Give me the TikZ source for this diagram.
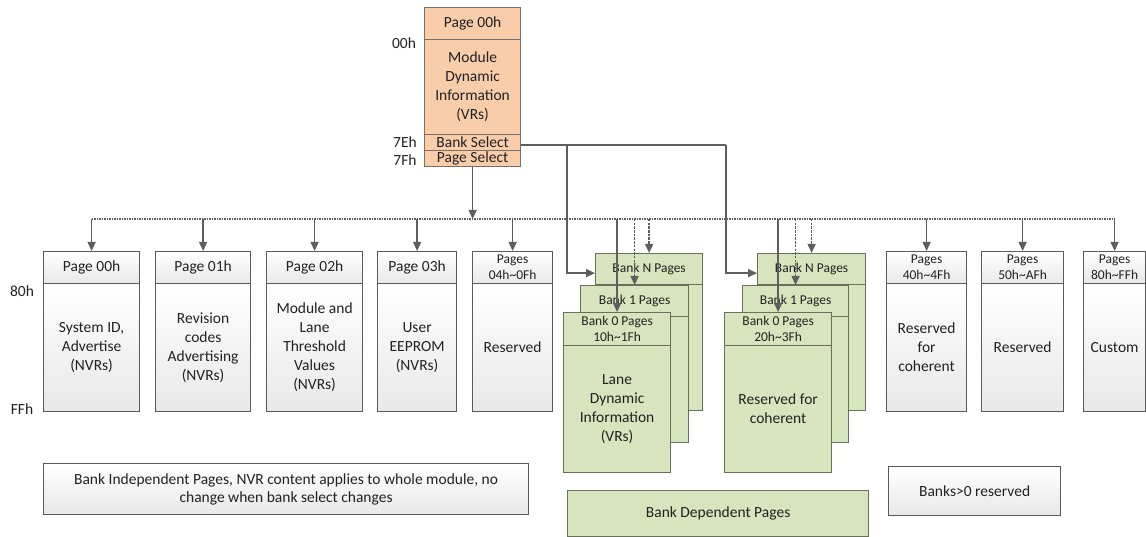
\documentclass[tikz,border=0pt]{standalone}
\usepackage{fontspec}
\setmainfont{Carlito}
\usetikzlibrary{arrows.meta}
\definecolor{peach}{HTML}{F9CCAA}
\definecolor{peachline}{HTML}{7A6E66}
\definecolor{olive}{HTML}{D8E4BE}
\definecolor{oliveline}{HTML}{68705A}
\definecolor{boxline}{HTML}{5A5A5A}
\definecolor{wirec}{HTML}{5E5E5E}
\definecolor{txt}{HTML}{222222}
\begin{document}
\begin{tikzpicture}[x=1pt,y=-1pt,
  every node/.append style={text=txt},
  font=\fontsize{15.5}{19}\selectfont,
  base/.style={draw=boxline, line width=1.2pt, anchor=north west, inner sep=0pt, align=center},
  wbox/.style={base, top color=white, bottom color=black!9},
  gbox/.style={base, draw=oliveline, fill=olive},
  obox/.style={base, draw=peachline, fill=peach},
  small/.style={font=\fontsize{13.5}{16}\selectfont},
  mid/.style={font=\fontsize{15.5}{18}\selectfont},
  lbl/.style={font=\fontsize{15.5}{17}\selectfont},
  wire/.style={draw=wirec, line width=1.3pt},
  arr/.style={wire, -{Triangle[length=9pt,width=8pt]}},
  bus/.style={draw=wirec, line width=1.1pt, dash pattern=on 1.5pt off 1pt},
  darr/.style={arr, dash pattern=on 2.5pt off 1.2pt}]
\useasboundingbox (0,0) rectangle (1146,537);

% top box
\node[obox, minimum width=96, minimum height=32] (tph) at (424,7) {Page 00h};
\node[obox, minimum width=96, minimum height=95] (tpb) at (424,39) {Module\\Dynamic\\Information\\(VRs)};
\node[obox, mid, minimum width=96, minimum height=16] (bsel) at (424,134) {Bank Select};
\node[obox, mid, minimum width=96, minimum height=16] (psel) at (424,150) {Page Select};
\node[lbl] (l00) at (404,43) {00h};
\node[lbl] (l7e) at (405,142) {7Eh};
\node[lbl] (l7f) at (405,160) {7Fh};
\node[lbl] (l80) at (22,291) {80h};
\node[lbl] (lff) at (22,409) {FFh};

% bank independent pages
\node[wbox, minimum width=96, minimum height=32] (b0h) at (43,251) {Page 00h};
\node[wbox, minimum width=96, minimum height=128] (b0b) at (43,283) {System ID,\\Advertise\\(NVRs)};
\node[wbox, minimum width=95, minimum height=32] (b1h) at (155,251) {Page 01h};
\node[wbox, minimum width=95, minimum height=128] (b1b) at (155,283) {Revision\\codes\\Advertising\\(NVRs)};
\node[wbox, minimum width=96, minimum height=32] (b2h) at (266,251) {Page 02h};
\node[wbox, minimum width=96, minimum height=128] (b2b) at (266,283) {Module and\\Lane\\Threshold\\Values\\(NVRs)};
\node[wbox, minimum width=79, minimum height=32] (b3h) at (377,251) {Page 03h};
\node[wbox, minimum width=79, minimum height=128] (b3b) at (377,283) {User\\EEPROM\\(NVRs)};
\node[wbox, small, minimum width=80, minimum height=32] (b4h) at (472,251) {Pages\\04h\textasciitilde0Fh};
\node[wbox, minimum width=80, minimum height=128] (b4b) at (472,283) {Reserved};
\node[wbox, small, minimum width=80, minimum height=32] (b5h) at (886,251) {Pages\\40h\textasciitilde4Fh};
\node[wbox, minimum width=80, minimum height=128] (b5b) at (886,283) {Reserved\\for\\coherent};
\node[wbox, small, minimum width=82, minimum height=32] (b6h) at (981,251) {Pages\\50h\textasciitilde AFh};
\node[wbox, minimum width=82, minimum height=128] (b6b) at (981,283) {Reserved};
\node[wbox, small, minimum width=62, minimum height=32] (b7h) at (1083,251) {Pages\\80h\textasciitilde FFh};
\node[wbox, minimum width=62, minimum height=128] (b7b) at (1083,283) {Custom};

% stack A
\node[gbox, small, minimum width=107, minimum height=31] (aNh) at (595,253) {Bank N Pages};
\node[gbox, minimum width=107, minimum height=126] (aNb) at (595,284) {};
\node[gbox, small, minimum width=108, minimum height=31] (a1h) at (580,285) {Bank 1 Pages};
\node[gbox, minimum width=108, minimum height=126] (a1b) at (580,316) {};
\node[gbox, small, minimum width=107, minimum height=33] (a0h) at (563,312) {Bank 0 Pages\\10h\textasciitilde1Fh};
\node[gbox, minimum width=107, minimum height=127] (a0b) at (563,345) {Lane\\Dynamic\\Information\\(VRs)};

% stack B
\node[gbox, small, minimum width=108, minimum height=31] (bNh) at (757,253) {Bank N Pages};
\node[gbox, minimum width=108, minimum height=126] (bNb) at (757,284) {};
\node[gbox, small, minimum width=106, minimum height=31] (bb1h) at (742,285) {Bank 1 Pages};
\node[gbox, minimum width=106, minimum height=126] (bb1b) at (742,316) {};
\node[gbox, small, minimum width=107, minimum height=33] (bb0h) at (724,312) {Bank 0 Pages\\20h\textasciitilde3Fh};
\node[gbox, minimum width=107, minimum height=127] (bb0b) at (724,345) {Reserved for\\coherent};

% legends
\node[wbox, mid, minimum width=485, minimum height=51] (leg1) at (43,463) {Bank Independent Pages, NVR content applies to whole module, no\\change when bank select changes};
\node[gbox, mid, minimum width=301, minimum height=46] (leg2) at (567,490) {Bank Dependent Pages};
\node[wbox, mid, minimum width=172, minimum height=49] (leg3) at (888,466) {Banks>0 reserved};

% bus
\coordinate (bus) at (0,219);
\draw[bus] (b0h.north |- bus) -- (b7h.north |- bus);
\draw[arr] (psel.south) -- (psel.south |- bus);
\foreach \n in {b0h,b1h,b2h,b3h,b4h,b5h,b6h,b7h}
  \draw[arr] (\n.north |- bus) -- (\n.north);
\draw[arr] (a0h.north |- bus) -- (a0h.north);
\draw[darr] (a1h.north |- bus) -- (a1h.north);
\draw[darr] (aNh.north |- bus) -- (aNh.north);
\draw[arr] (bb0h.north |- bus) -- (bb0h.north);
\draw[darr] (bb1h.north |- bus) -- (bb1h.north);
\draw[darr] (bNh.north |- bus) -- (bNh.north);

% bank select
\coordinate (ja) at (567,145);
\coordinate (jb) at (726,145);
\draw[wire] (bsel.east |- ja) -- (jb);
\draw[arr] (ja) |- ([yshift=-4pt]aNh.west);
\draw[arr] (jb) |- ([yshift=-4pt]bNh.west);
\end{tikzpicture}
\end{document}
